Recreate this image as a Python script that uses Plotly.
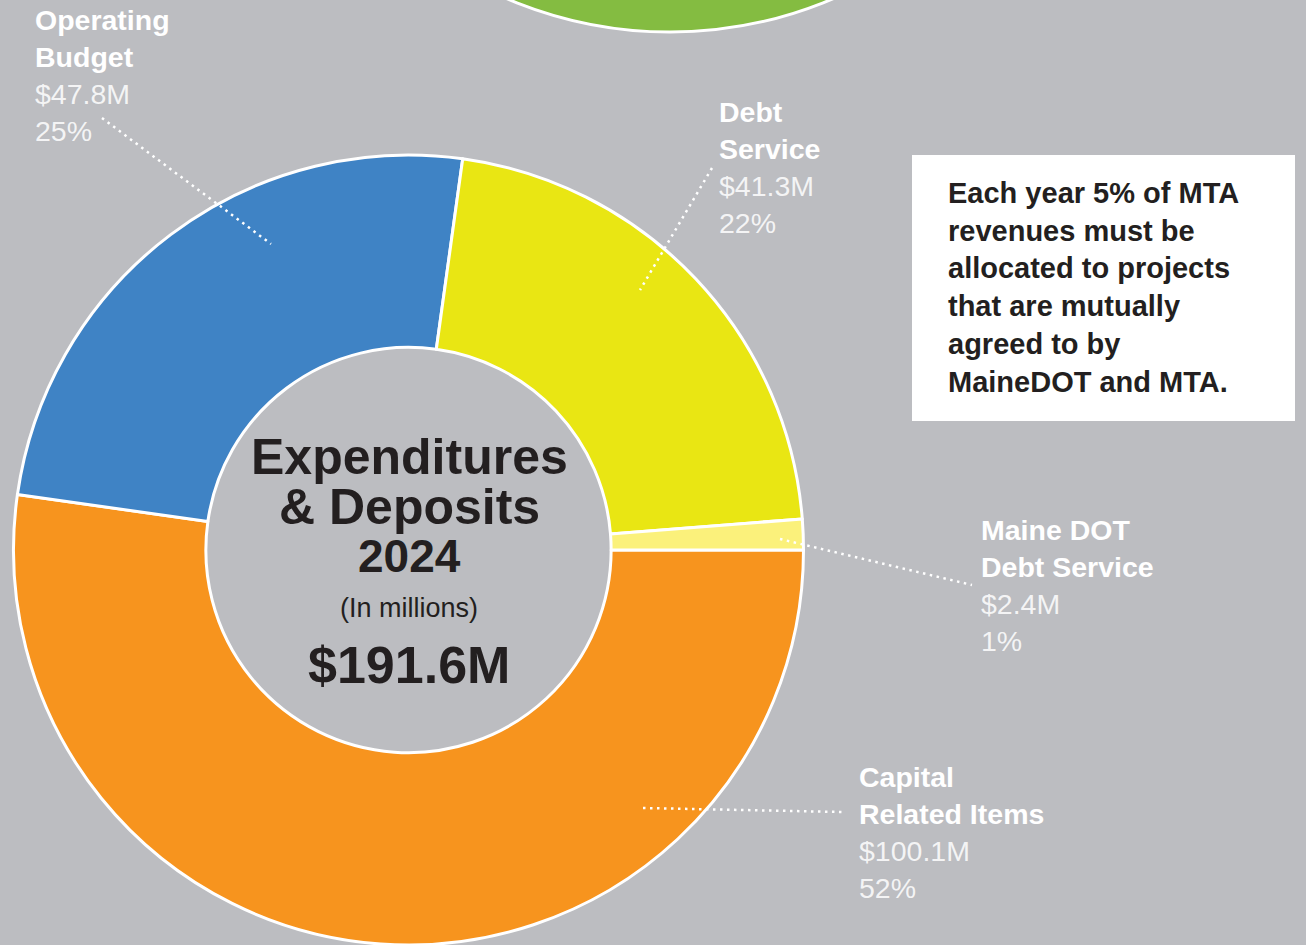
import plotly.graph_objects as go

W, H = 1306, 945

# data
categories = ['Capital Related Items', 'Operating Budget', 'Debt Service', 'Maine DOT Debt Service']
label_names = ['Capital<br>Related Items', 'Operating<br>Budget', 'Debt<br>Service', 'Maine DOT<br>Debt Service']
values = [100.1, 47.8, 41.3, 2.4]
pct_labels = ['52%', '25%', '22%', '1%']
colors = ['#F7941E', '#3F83C5', '#E9E613', '#FBF17B']
total_label = '$191.6M'
note = ('Each year 5% of MTA<br>revenues must be<br>allocated to projects<br>'
        'that are mutually<br>agreed to by<br>MaineDOT and MTA.')

BG = '#BCBDC1'
DARK = '#231F20'
FONT = 'Liberation Sans, Arial, sans-serif'


def px_x(x):
    return x / W


def px_y(y):
    return 1 - y / H


fig = go.Figure()

fig.add_trace(go.Pie(
    labels=categories,
    values=values,
    marker=dict(colors=colors, line=dict(color='white', width=3)),
    hole=0.513,
    sort=False,
    direction='clockwise',
    rotation=90,
    textinfo='none',
    hovertemplate='%{label}: $%{value}M<extra></extra>',
    domain=dict(x=[px_x(13.5), px_x(803.5)], y=[px_y(945), px_y(155)]),
    showlegend=False,
))

shapes = []
annotations = []

# partial green circle at the top (next chart in the page)
shapes.append(dict(type='circle', xref='paper', yref='paper',
                   x0=px_x(670 - 416), x1=px_x(670 + 416),
                   y0=px_y(32), y1=px_y(-800),
                   fillcolor='#84BC41', line=dict(color='white', width=3),
                   layer='below'))

# white note box
shapes.append(dict(type='rect', xref='paper', yref='paper',
                   x0=px_x(912), x1=px_x(1295), y0=px_y(421), y1=px_y(155),
                   fillcolor='white', line=dict(width=0), layer='below'))
annotations.append(dict(xref='paper', yref='paper', x=px_x(946), y=px_y(287),
                        xanchor='left', yanchor='middle', align='left', showarrow=False,
                        text='<b>' + note + '</b>',
                        font=dict(family=FONT, size=29, color=DARK)))

# outside labels: (left x, block centre y) and leader line ends
label_pos = [(857, 832), (33, 76), (717, 167), (979, 585)]
leaders = [((643, 808), (842, 812)),
           ((102, 118), (271, 244)),
           ((712, 168), (640, 290)),
           ((780, 539), (972, 585))]

for name, v, p, (lx, ly), (a, b) in zip(label_names, values, pct_labels, label_pos, leaders):
    txt = ('<b>' + name + '</b><br>'
           + "<span style='color:rgba(255,255,255,0.85)'>$" + f'{v:.1f}M<br>' + p + '</span>')
    annotations.append(dict(xref='paper', yref='paper', x=px_x(lx), y=px_y(ly),
                            xanchor='left', yanchor='middle', align='left', showarrow=False,
                            text=txt, font=dict(family=FONT, size=28.5, color='white')))
    shapes.append(dict(type='line', xref='paper', yref='paper',
                       x0=px_x(a[0]), y0=px_y(a[1]), x1=px_x(b[0]), y1=px_y(b[1]),
                       line=dict(color='white', width=2.5, dash='2.5px,4.5px')))

# centre text
centre = [('<b>Expenditures</b>', 457, 50),
          ('<b>&amp; Deposits</b>', 507, 50),
          ('<b>2024</b>', 556, 46),
          ('(In millions)', 608, 27),
          ('<b>' + total_label + '</b>', 665, 52)]
for t, y, s in centre:
    annotations.append(dict(xref='paper', yref='paper', x=px_x(409), y=px_y(y),
                            xanchor='center', yanchor='middle', showarrow=False,
                            text=t, font=dict(family=FONT, size=s, color=DARK)))

fig.update_layout(
    width=W, height=H,
    margin=dict(l=0, r=0, t=0, b=0),
    paper_bgcolor=BG,
    plot_bgcolor=BG,
    shapes=shapes,
    annotations=annotations,
)

fig.write_html('out.html', config={'displayModeBar': False},
               post_script="document.body.style.margin='0';")
